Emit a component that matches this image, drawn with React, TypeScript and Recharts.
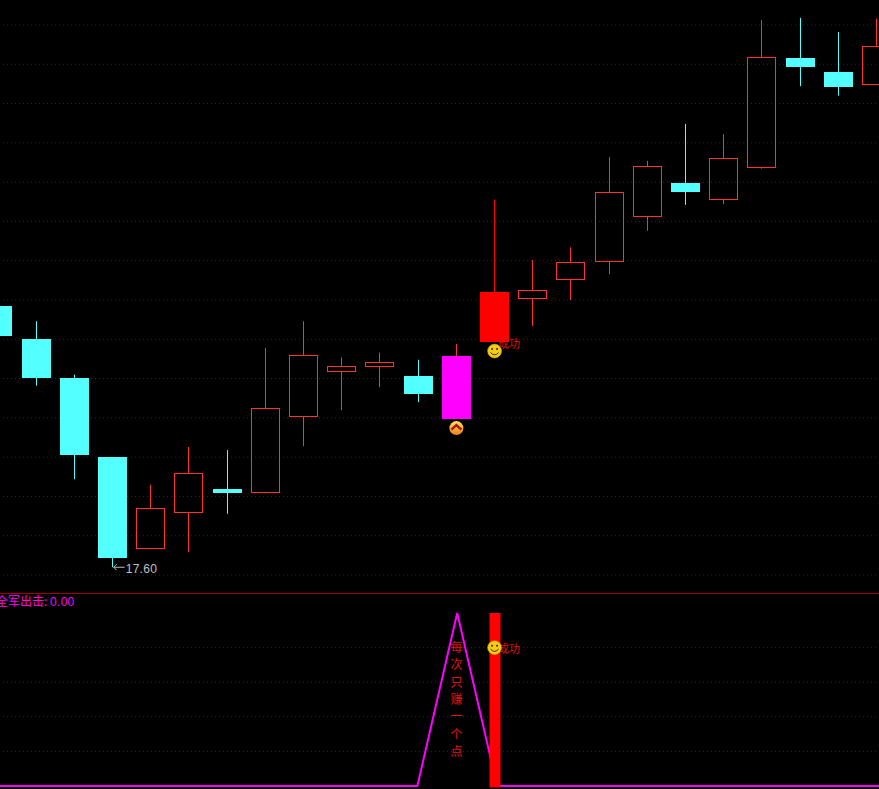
import React from "react";
import { ComposedChart, Bar, Line, XAxis, YAxis, CartesianGrid, ReferenceDot, ReferenceLine } from "recharts";

const sessions = ["d00","d01","d02","d03","d04","d05","d06","d07","d08","d09","d10","d11","d12","d13","d14","d15","d16","d17","d18","d19","d20","d21","d22","d23"];
const opens  = [20.92,20.50,20.01,19.00,17.83,18.29,18.59,18.54,19.51,20.08,20.15,20.03,20.29,20.47,21.01,21.25,21.48,22.06,22.49,22.27,22.68,24.08,23.90,23.74];
const closes = [20.54,20.01,19.03,17.72,18.35,18.80,18.54,19.63,20.30,20.16,20.21,19.80,19.49,21.10,21.13,21.48,22.37,22.71,22.37,22.81,24.09,23.96,23.71,24.23];
const highs  = [20.92,20.73,20.05,19.00,18.65,19.13,19.09,20.39,20.73,20.27,20.33,20.24,20.44,22.28,21.51,21.67,22.82,22.77,23.24,23.11,24.56,24.59,24.41,24.58];
const lows   = [20.54,19.91,18.72,17.60,17.83,17.79,18.28,18.54,19.14,19.60,19.89,19.70,19.49,20.47,20.67,21.00,21.33,21.88,22.21,22.22,22.67,23.72,23.60,23.74];
const signalLine = [0,0,0,0,0,0,0,0,0,0,0,0,100,0,0,0,0,0,0,0,0,0,0,0];
const signalBar  = [0,0,0,0,0,0,0,0,0,0,0,0,0,100,0,0,0,0,0,0,0,0,0,0];
const priceTicks = [17.5,18,18.5,19,19.5,20,20.5,21,21.5,22,22.5,23,23.5,24,24.5];
const signalTicks = [20,40,60,80];
const noteChars = ["每","次","只","赚","一","个","点"];
const noteLevels = [80,70,60,50,40,30,20];
const magentaSession = "d12";
const solidSession = "d13";
const lowSession = "d03";
const lowPrice = 17.6;
const successPrice = 20.35;
const chevronPrice = 19.37;
const successSignal = 80;
const signalBase = -0.8;

const priceRows = sessions.map((s, i) => ({ s, open: opens[i], close: closes[i], high: highs[i], low: lows[i], range: [lows[i], highs[i]] }));
const lineRows = sessions.map((s, i) => ({ s, line: signalLine[i] }));
const barRows = sessions.map((s, i) => ({ s, bar: signalBar[i] ? [signalBase, signalBar[i]] : null }));

const RED = "#ff3232";
const CYAN = "#54ffff";
const MAGENTA = "#ff00ff";
const GRID = "#8a0000";
const CJK = '"Noto Sans CJK SC", sans-serif';
const SIGNAL_DOMAIN = [-1.73, 111.6];

function Candle(props: any) {
  const { x, y, width, height, payload } = props;
  const { open, close, high, low, s } = payload;
  const span = high - low || 1;
  const toY = (v: number) => y + ((high - v) / span) * height;
  const left = Math.floor(x);
  const w = Math.round(width);
  const cx = left + Math.floor(w / 2) + 0.5;
  const top = Math.round(toY(Math.max(open, close)));
  const bot = Math.round(toY(Math.min(open, close)));
  const up = close >= open;
  const filled = !up || s === solidSession || s === magentaSession;
  const color = s === magentaSession ? MAGENTA : s === solidSession ? "#ff0000" : up ? RED : CYAN;
  const wick = s === magentaSession ? RED : color;
  return (
    <g>
      <line x1={cx} x2={cx} y1={y} y2={top} stroke={wick} />
      <line x1={cx} x2={cx} y1={bot} y2={y + height} stroke={wick} />
      {filled ? (
        <rect x={left} y={top} width={w} height={Math.max(bot - top, 1)} fill={color} />
      ) : (
        <rect x={left + 0.5} y={top + 0.5} width={w - 1} height={Math.max(bot - top - 1, 1)} fill="none" stroke={color} />
      )}
    </g>
  );
}

function Smiley({ cx, cy, label, dy }: any) {
  return (
    <g>
      <text x={cx + 3.5} y={cy + dy} fill="#e01010" fontSize={11} fontFamily={CJK}>{label}</text>
      <circle cx={cx} cy={cy} r={7} fill="#f4cc14" stroke="#b89008" strokeWidth={0.6} />
      <circle cx={cx - 2.5} cy={cy - 2} r={1} fill="#3a2a00" />
      <circle cx={cx + 2.5} cy={cy - 2} r={1} fill="#3a2a00" />
      <path d={`M${cx - 4} ${cy + 1.5}Q${cx} ${cy + 6} ${cx + 4} ${cy + 1.5}`} fill="none" stroke="#3a2a00" strokeWidth={1} />
    </g>
  );
}

function Chevron({ cx, cy }: any) {
  return (
    <g>
      <defs>
        <linearGradient id="chev" x1="0" y1="0" x2="0" y2="1">
          <stop offset="0" stopColor="#ffe060" />
          <stop offset="1" stopColor="#f08010" />
        </linearGradient>
      </defs>
      <circle cx={cx} cy={cy} r={7} fill="url(#chev)" />
      <path d={`M${cx - 5} ${cy + 1.5}L${cx} ${cy - 3}L${cx + 5} ${cy + 1.5}`} fill="none" stroke="#a81818" strokeWidth={2.4} />
    </g>
  );
}

function LowMark({ cx, cy, value }: any) {
  return (
    <g>
      <path d={`M${cx + 1} ${cy}H${cx + 12}M${cx + 1} ${cy}l3 -3M${cx + 1} ${cy}l3 3`} fill="none" stroke="#c0c0c0" />
      <text x={cx + 13} y={cy + 6} fill="#c0c0c0" fontSize={12} letterSpacing={0.3} fontFamily="Liberation Sans, sans-serif">{value.toFixed(2)}</text>
    </g>
  );
}

function NoteChar({ cx, cy, ch }: any) {
  return <text x={cx} y={cy + 4.5} textAnchor="middle" fill="#e81010" fontSize={12} fontFamily={CJK}>{ch}</text>;
}

const bandMargin = { top: 0, bottom: 0, left: -21, right: -16.6 };
const layer = (top: number): React.CSSProperties => ({ position: "absolute", left: 0, top });

export default function App() {
  return (
    <div style={{ position: "absolute", left: 0, top: 0, width: 879, height: 789, background: "#000", overflow: "hidden" }}>
      <div style={layer(0)}>
        <ComposedChart width={879} height={593} data={priceRows} margin={bandMargin} barCategoryGap={0}>
          <XAxis dataKey="s" hide />
          <YAxis hide domain={[17.272, 24.817]} allowDataOverflow />
          <CartesianGrid horizontal vertical={false} horizontalValues={priceTicks} stroke={GRID} strokeDasharray="1 3" />
          <Bar dataKey="range" barSize={29} isAnimationActive={false} shape={<Candle />} />
          <ReferenceDot x={lowSession} y={lowPrice} shape={(p: any) => <LowMark cx={p.cx} cy={p.cy} value={lowPrice} />} />
          <ReferenceDot x={solidSession} y={successPrice} shape={(p: any) => <Smiley cx={p.cx} cy={p.cy} label="成功" dy={-3} />} />
          <ReferenceDot x={magentaSession} y={chevronPrice} shape={(p: any) => <Chevron cx={p.cx} cy={p.cy} />} />
        </ComposedChart>
      </div>
      <div style={layer(593)}>
        <ComposedChart width={879} height={196} data={lineRows} margin={bandMargin}>
          <XAxis dataKey="s" hide />
          <YAxis hide domain={SIGNAL_DOMAIN} allowDataOverflow />
          <CartesianGrid horizontal vertical={false} horizontalValues={signalTicks} stroke={GRID} strokeDasharray="1 3" />
          <ReferenceLine y={111.3} stroke="#a00000" />
          <Line dataKey="line" stroke={MAGENTA} strokeWidth={2} dot={false} isAnimationActive={false} />
        </ComposedChart>
      </div>
      <div style={layer(593)}>
        <ComposedChart width={879} height={196} data={barRows} margin={bandMargin} barCategoryGap={0}>
          <XAxis dataKey="s" hide />
          <YAxis hide domain={SIGNAL_DOMAIN} allowDataOverflow />
          <Bar dataKey="bar" barSize={11} fill="#ff0000" isAnimationActive={false} />
          {noteChars.map((ch, i) => (
            <ReferenceDot key={ch} x={magentaSession} y={noteLevels[i]} shape={(p: any) => <NoteChar cx={p.cx} cy={p.cy} ch={ch} />} />
          ))}
          <ReferenceDot x={solidSession} y={successSignal} shape={(p: any) => <Smiley cx={p.cx} cy={p.cy} label="成功" dy={5} />} />
        </ComposedChart>
        <div style={{ position: "absolute", left: -4, top: -1, color: MAGENTA, fontSize: 12, fontFamily: CJK, lineHeight: "17px", whiteSpace: "nowrap" }}>
          全军出击: <span style={{ fontFamily: "Liberation Sans, sans-serif", letterSpacing: 0.3 }}>0.00</span>
        </div>
      </div>
    </div>
  );
}
